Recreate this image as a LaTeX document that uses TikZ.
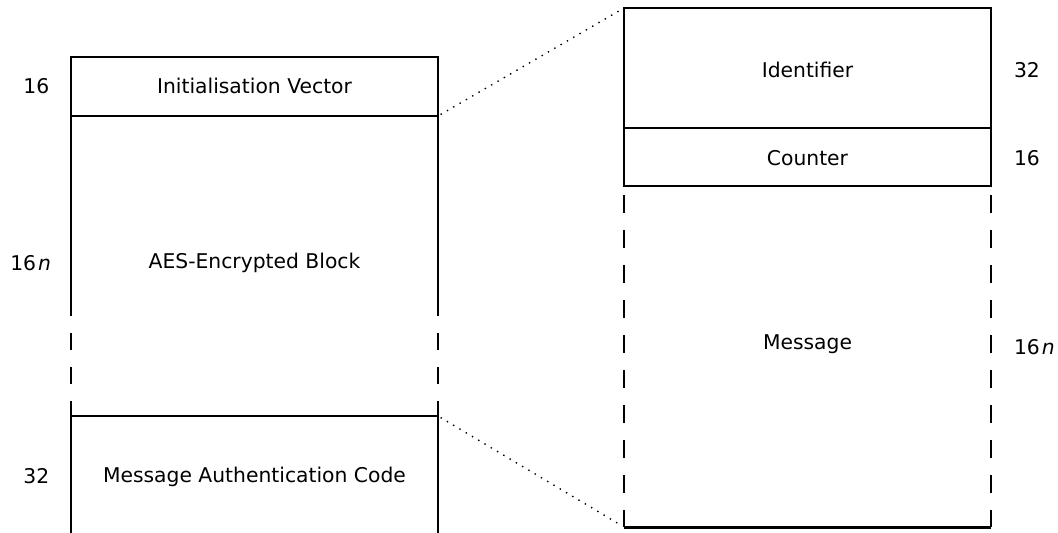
\documentclass[tikz,border=0pt]{standalone}
\usepackage{fontspec}
\setmainfont{DejaVu Sans}
\usetikzlibrary{calc}
\begin{document}
\begin{tikzpicture}[x=1pt,y=-1pt,
  field/.style={rectangle, inner sep=0pt, outer sep=0pt, minimum width=367pt},
  txt/.style={anchor=base, inner sep=0pt, outer sep=0pt, font=\fontsize{20.3}{24}\selectfont},
  szl/.style={txt, anchor=base east},
  szr/.style={txt, anchor=base west},
  edge/.style={line width=2pt},
  gapdashA/.style={edge, dash pattern=on 17pt off 17pt, dash phase=17pt},
  gapdashB/.style={edge, dash pattern=on 17.5pt off 17.5pt, dash phase=26pt},
  dots/.style={line width=1.4pt, dash pattern=on 1.4pt off 5.9pt, shorten <=3pt, shorten >=3pt}
]
\useasboundingbox (0,0) rectangle (1058,533);

% field shapes
\node[field, minimum height=59pt]  (iv)  at (254.5,86.5) {};
\node[field, minimum height=300pt] (aes) at (254.5,266) {};
\node[field, minimum height=118pt] (mac) at (254.5,475) {};
\node[field, minimum height=120pt] (id)  at (807.5,68) {};
\node[field, minimum height=58pt]  (ctr) at (807.5,157) {};
\node[field, minimum height=341pt] (msg) at (807.5,356.5) {};

% left column
\draw[edge] (iv.south west) rectangle (iv.north east);
\draw[edge] (aes.north west) -- ++(0,200);
\draw[edge] (aes.north east) -- ++(0,200);
\draw[gapdashA] ($(aes.north west)+(0,200)$) -- (aes.south west);
\draw[gapdashA] ($(aes.north east)+(0,200)$) -- (aes.south east);
\draw[edge] (mac.south west) |- (mac.north east) -- (mac.south east);

% right column
\draw[edge] (id.south west) rectangle (id.north east);
\draw[edge] (ctr.south west) rectangle (ctr.north east);
\draw[gapdashB] (msg.north west) -- (msg.south west);
\draw[gapdashB] (msg.north east) -- (msg.south east);
\draw[line width=3pt] (msg.south west) -- (msg.south east);

% zoom connectors
\draw[dots] (iv.south east) -- (id.north west);
\draw[dots] (mac.north east) -- (msg.south west);

% texts
\node[txt] (ivl)  at (254.5,93.3)  {Initialisation Vector};
\node[txt] (aesl) at (254.5,268.3) {AES-Encrypted Block};
\node[txt] (macl) at (254.5,482.7) {Message Authentication Code};
\node[txt] (idl)  at (807.5,77.3)  {Identifier};
\node[txt] (ctrl) at (807.5,165.7) {Counter};
\node[txt] (msgl) at (807.5,349.3) {Message};

% sizes
\node[szl] (s1) at (49.3,93.3) {16};
\node[szl] (s2) at (51,270)  {16\kern2pt\textit{n}};
\node[szl] (s3) at (49.3,483)  {32};
\node[szr] (s4) at (1014,77.3)  {32};
\node[szr] (s5) at (1014,165.7) {16};
\node[szr] (s6) at (1014,354)   {16\kern2pt\textit{n}};
\end{tikzpicture}
\end{document}
